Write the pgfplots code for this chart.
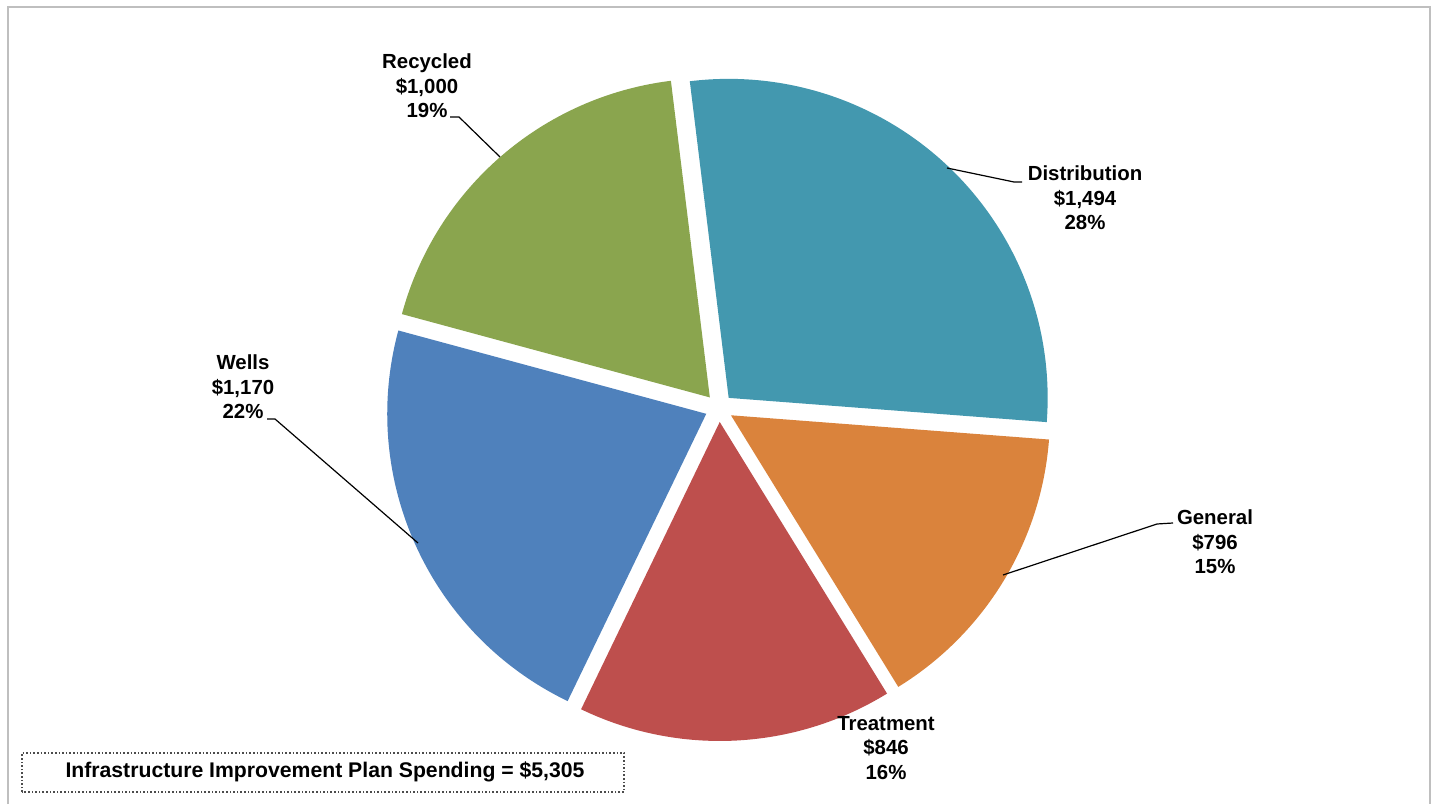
\documentclass[border=0pt]{standalone}
\usepackage{fontspec}
\setmainfont{Liberation Sans}
\usepackage{pgfplots}
\pgfplotsset{compat=1.18}
\definecolor{cDist}{HTML}{4398AF}
\definecolor{cGen}{HTML}{DA833C}
\definecolor{cTreat}{HTML}{BE4F4D}
\definecolor{cWells}{HTML}{4F81BC}
\definecolor{cRec}{HTML}{8AA54E}
\definecolor{frame}{HTML}{BFBFBF}
\tikzset{lab/.style={font=\fontsize{10.2}{12.2}\selectfont\bfseries, align=center, inner sep=0pt}}
\begin{document}
\begin{tikzpicture}
\begin{axis}[
  width=717pt, height=402pt, scale only axis,
  xmin=0, xmax=1434, ymin=0, ymax=804,
  axis lines=none, clip=false,
]
% frame
\draw[frame, line width=1pt] (axis cs:8,0) -- (axis cs:8,797) -- (axis cs:1430,797) -- (axis cs:1430,0);
% pie slices: value/colour, clockwise from 97 degrees
\pgfmathsetmacro\total{1494+796+846+1170+1000}
\gdef\curang{97}
\foreach \v/\c in {1494/cDist,796/cGen,846/cTreat,1170/cWells,1000/cRec}{
  \pgfmathsetmacro\frac{\v/\total}
  \pgfmathsetmacro\aS{\curang}
  \pgfmathsetmacro\aE{\curang-\frac*360}
  \pgfmathsetmacro\aM{(\aS+\aE)/2}
  \pgfmathsetmacro\cx{719+14*cos(\aM)}
  \pgfmathsetmacro\cy{396+14*sin(\aM)}
  \edef\temp{\noexpand\fill[\c] (axis cs:\cx,\cy) -- ++(\aS:159.5pt) arc[start angle=\aS, end angle=\aE, radius=159.5pt] -- cycle;}
  \temp
  \xdef\curang{\aE}
}
% leader lines
\draw[black, line width=0.6pt] (axis cs:450,687) -- (axis cs:459,687) -- (axis cs:500,647);
\draw[black, line width=0.6pt] (axis cs:1022,622) -- (axis cs:1014,622) -- (axis cs:947,636);
\draw[black, line width=0.6pt] (axis cs:1173,281) -- (axis cs:1157,280) -- (axis cs:1003,229);
\draw[black, line width=0.6pt] (axis cs:267,385) -- (axis cs:275,385) -- (axis cs:418,261);
% labels
\node[lab] at (axis cs:427,718) {Recycled\\\$1,000\\19\%};
\node[lab] at (axis cs:1085,606) {Distribution\\\$1,494\\28\%};
\node[lab] at (axis cs:1215,262) {General\\\$796\\15\%};
\node[lab] at (axis cs:886,56) {Treatment\\\$846\\16\%};
\node[lab] at (axis cs:243,417) {Wells\\\$1,170\\22\%};
% total box
\draw[black!70, densely dotted, line width=0.8pt] (axis cs:22,12) rectangle (axis cs:624,51);
\node[lab, font=\fontsize{10.6}{12.6}\selectfont\bfseries] at (axis cs:325,32) {Infrastructure Improvement Plan Spending = \$5,305};
\end{axis}
\pgfresetboundingbox
\path (current axis.south west) rectangle (current axis.north east);
\end{tikzpicture}
\end{document}
